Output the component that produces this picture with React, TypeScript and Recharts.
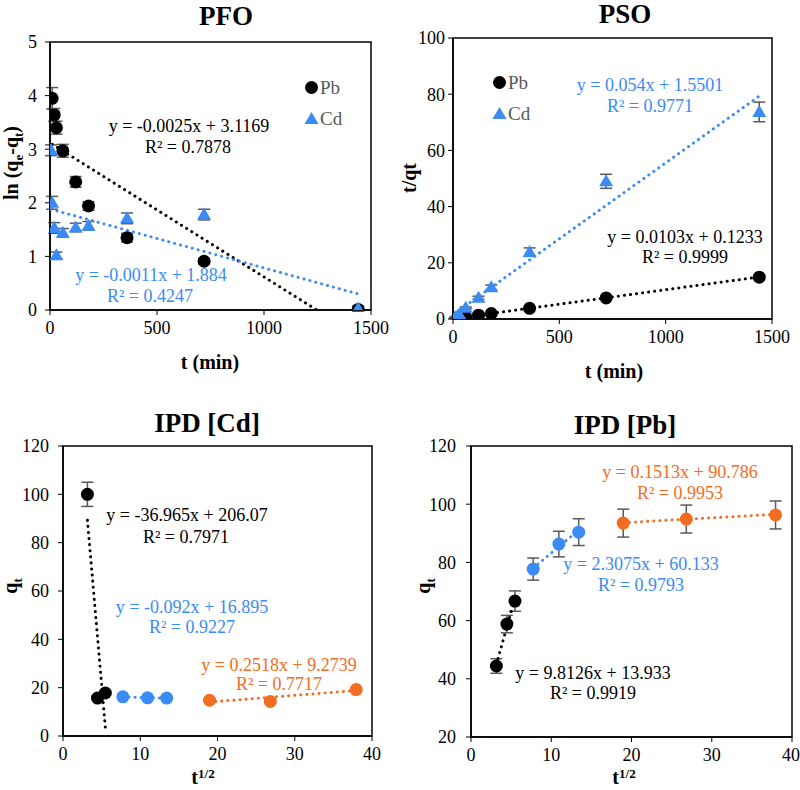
import React from "react";
import { ScatterChart, Scatter, XAxis, YAxis, ErrorBar, ReferenceArea, Legend } from "recharts";

const SERIF = "Liberation Serif, Tinos, DejaVu Serif, serif";
const BLUE = "#3b8bf4";
const ORANGE = "#f26c22";
const BLACK = "#000000";
const BAR = "#595959";

// PFO : ln(qe-qt) vs t
const pfoPbTime = [10, 20, 30, 60, 120, 180, 360, 720, 1440];
const pfoPb = [3.95, 3.64, 3.4, 2.97, 2.39, 1.94, 1.35, 0.91, 0.01];
const pfoPbErr = [0.2, 0.12, 0.12, 0.12, 0.1, 0.08, 0.08, 0.05, 0.03];
const pfoCdTime = [5, 10, 20, 30, 60, 120, 180, 360, 720, 1440];
const pfoCd = [2.98, 2.0, 1.53, 1.02, 1.44, 1.54, 1.57, 1.71, 1.78, 0.03];
const pfoCdErr = [0.1, 0.12, 0.1, 0.06, 0.08, 0.08, 0.08, 0.1, 0.1, 0.05];
const pfoPbFit = { slope: -0.0025, intercept: 3.1169, r2: 0.7878 };
const pfoCdFit = { slope: -0.0011, intercept: 1.884, r2: 0.4247 };

// PSO : t/qt vs t
const psoTime = [10, 20, 30, 60, 120, 180, 360, 720, 1440];
const psoPb = [0.22, 0.3, 0.45, 0.75, 1.35, 1.95, 3.8, 7.5, 14.9];
const psoPbErr = [0.05, 0.05, 0.05, 0.1, 0.1, 0.1, 0.2, 0.3, 0.5];
const psoCd = [0.6, 1.0, 1.6, 4.0, 7.6, 11.3, 23.8, 49.0, 73.7];
const psoCdErr = [0.1, 0.1, 0.2, 0.3, 0.5, 0.8, 1.5, 2.5, 3.5];
const psoPbFit = { slope: 0.0103, intercept: 0.1233, r2: 0.9999 };
const psoCdFit = { slope: 0.054, intercept: 1.5501, r2: 0.9771 };

// IPD : qt vs t^1/2, three stages
const rootT1 = [3.16, 4.47, 5.48];
const rootT2 = [7.75, 10.95, 13.42];
const rootT3 = [18.97, 26.83, 37.95];

const ipdCd1 = [100, 15.7, 17.8];
const ipdCd1Err = [5, 0.8, 0.8];
const ipdCd2 = [16.2, 15.8, 15.7];
const ipdCd2Err = [0.5, 0.5, 0.5];
const ipdCd3 = [14.8, 14.3, 19.2];
const ipdCd3Err = [0.5, 0.5, 0.5];
const ipdCdFits = [
  { slope: -36.965, intercept: 206.07, r2: 0.7971 },
  { slope: -0.092, intercept: 16.895, r2: 0.9227 },
  { slope: 0.2518, intercept: 9.2739, r2: 0.7717 },
];

const ipdPb1 = [44.4, 58.8, 66.7];
const ipdPb1Err = [2.5, 3, 3.5];
const ipdPb2 = [77.7, 86.3, 90.4];
const ipdPb2Err = [3.8, 4.4, 4.6];
const ipdPb3 = [93.5, 94.9, 96.3];
const ipdPb3Err = [4.8, 4.8, 4.8];
const ipdPbFits = [
  { slope: 9.8126, intercept: 13.933, r2: 0.9919 },
  { slope: 2.3075, intercept: 60.133, r2: 0.9793 },
  { slope: 0.1513, intercept: 90.786, r2: 0.9953 },
];

const legendOrder = ["Pb", "Cd"];

type Fit = { slope: number; intercept: number; r2: number };
type Series = {
  name?: string;
  x: number[];
  y: number[];
  err: number[];
  color: string;
  shape: "circle" | "triangle";
  fit?: Fit;
};

const rows = (x: number[], y: number[], err: number[]) =>
  x.map((v, i) => ({ x: v, y: y[i], err: err[i] }));

// Excel trendline from first to last x, cut where it leaves the y range
function trend(fit: Fit, xs: number[], yMin: number) {
  let x0 = Math.min(...xs);
  let x1 = Math.max(...xs);
  const f = (x: number) => fit.slope * x + fit.intercept;
  if (f(x1) < yMin) x1 = (yMin - fit.intercept) / fit.slope;
  if (f(x0) < yMin) x0 = (yMin - fit.intercept) / fit.slope;
  return [
    { x: x0, y: f(x0) },
    { x: x1, y: f(x1) },
  ];
}

const eqText = (f: Fit) => `y = ${f.slope}x + ${f.intercept}`;
const r2Text = (f: Fit) => `R² = ${f.r2}`;

const makeShape = (kind: "circle" | "triangle", color: string) => (props: any) => {
  const { cx, cy } = props;
  if (cx == null || cy == null) return <g />;
  if (kind === "triangle") {
    return <polygon points={`${cx},${cy - 7} ${cx - 7},${cy + 5} ${cx + 7},${cy + 5}`} fill={color} />;
  }
  return <circle cx={cx} cy={cy} r={6.5} fill={color} />;
};

const legendContent = (props: any) => {
  const items = (props.payload || [])
    .filter((p: any) => p.type !== "none")
    .sort((a: any, b: any) => legendOrder.indexOf(a.value) - legendOrder.indexOf(b.value));
  return (
    <div style={{ fontFamily: SERIF, fontSize: 19, color: "#595959", lineHeight: "31px" }}>
      {items.map((p: any) => (
        <div key={p.value} style={{ display: "flex", alignItems: "center" }}>
          <svg width={15} height={15}>
            {p.type === "triangle" ? (
              <polygon points="7.5,1 0.5,13 14.5,13" fill={p.color} />
            ) : (
              <circle cx={7.5} cy={7.5} r={6.5} fill={p.color} />
            )}
          </svg>
          <span style={{ marginLeft: 1 }}>{p.value}</span>
        </div>
      ))}
    </div>
  );
};

type PanelProps = {
  box: { left: number; top: number; width: number; height: number };
  plot: { L: number; T: number; R: number; B: number };
  xDomain: [number, number];
  xTicks: number[];
  yDomain: [number, number];
  yTicks: number[];
  yTickMargin: number;
  series: Series[];
  legendAt?: { x: number; y: number };
};

function Panel({ box, plot, xDomain, xTicks, yDomain, yTicks, yTickMargin, series, legendAt }: PanelProps) {
  const xAxisHeight = 30;
  const margin = {
    top: plot.T - box.top,
    left: 0,
    right: box.left + box.width - plot.R,
    bottom: box.top + box.height - plot.B - xAxisHeight,
  };
  const tick = { fill: "#000", fontSize: 18, fontFamily: SERIF };
  return (
    <div style={{ position: "absolute", left: box.left, top: box.top }}>
      <ScatterChart width={box.width} height={box.height} margin={margin}>
        <XAxis
          type="number"
          dataKey="x"
          domain={xDomain}
          ticks={xTicks}
          allowDataOverflow
          height={xAxisHeight}
          tickSize={5}
          tickMargin={6}
          tick={tick}
          axisLine={{ stroke: "#000", strokeWidth: 1.5 }}
          tickLine={{ stroke: "#000" }}
        />
        <YAxis
          type="number"
          dataKey="y"
          domain={yDomain}
          ticks={yTicks}
          allowDataOverflow
          width={plot.L - box.left}
          tickSize={5}
          tickMargin={yTickMargin}
          tick={tick}
          axisLine={{ stroke: "#000", strokeWidth: 1.5 }}
          tickLine={{ stroke: "#000" }}
        />
        <ReferenceArea
          x1={xDomain[0]}
          x2={xDomain[1]}
          y1={yDomain[0]}
          y2={yDomain[1]}
          fill="none"
          stroke="#000"
          strokeWidth={1.5}
          ifOverflow="visible"
        />
        {series
          .filter((s) => s.fit)
          .map((s, i) => (
            <Scatter
              key={`fit-${i}`}
              data={trend(s.fit as Fit, s.x, yDomain[0])}
              line={{ stroke: s.color, strokeWidth: 3, strokeDasharray: "0.1 6", strokeLinecap: "round" }}
              lineType="joint"
              shape={() => <g />}
              legendType="none"
              isAnimationActive={false}
            />
          ))}
        {series.map((s, i) => (
          <Scatter
            key={`pts-${i}`}
            name={s.name}
            data={rows(s.x, s.y, s.err)}
            fill={s.color}
            shape={makeShape(s.shape, s.color)}
            legendType={s.name ? s.shape : "none"}
            isAnimationActive={false}
          >
            <ErrorBar dataKey="err" direction="y" width={6} strokeWidth={1.5} stroke={BAR} />
          </Scatter>
        ))}
        {legendAt && (
          <Legend
            layout="vertical"
            align="center"
            verticalAlign="middle"
            content={legendContent}
            wrapperStyle={{ left: legendAt.x - box.left, top: legendAt.y - box.top, width: "auto" }}
          />
        )}
      </ScatterChart>
    </div>
  );
}

function Note({ x, y, color, size = 18, bold = false, children, rotate = false }: any) {
  return (
    <div
      style={{
        position: "absolute",
        left: x,
        top: y,
        transform: `translate(-50%, -50%)${rotate ? " rotate(-90deg)" : ""}`,
        fontFamily: SERIF,
        fontSize: size,
        fontWeight: bold ? "bold" : "normal",
        color,
        whiteSpace: "nowrap",
        lineHeight: 1,
      }}
    >
      {children}
    </div>
  );
}

const supStyle = { fontSize: 13, verticalAlign: "top", lineHeight: 1 };

export default function App() {
  const pfoSeries: Series[] = [
    { name: "Pb", x: pfoPbTime, y: pfoPb, err: pfoPbErr, color: BLACK, shape: "circle", fit: pfoPbFit },
    { name: "Cd", x: pfoCdTime, y: pfoCd, err: pfoCdErr, color: BLUE, shape: "triangle", fit: pfoCdFit },
  ];
  const psoSeries: Series[] = [
    { name: "Pb", x: psoTime, y: psoPb, err: psoPbErr, color: BLACK, shape: "circle", fit: psoPbFit },
    { name: "Cd", x: psoTime, y: psoCd, err: psoCdErr, color: BLUE, shape: "triangle", fit: psoCdFit },
  ];
  const ipdCdSeries: Series[] = [
    { x: rootT1, y: ipdCd1, err: ipdCd1Err, color: BLACK, shape: "circle", fit: ipdCdFits[0] },
    { x: rootT2, y: ipdCd2, err: ipdCd2Err, color: BLUE, shape: "circle", fit: ipdCdFits[1] },
    { x: rootT3, y: ipdCd3, err: ipdCd3Err, color: ORANGE, shape: "circle", fit: ipdCdFits[2] },
  ];
  const ipdPbSeries: Series[] = [
    { x: rootT1, y: ipdPb1, err: ipdPb1Err, color: BLACK, shape: "circle", fit: ipdPbFits[0] },
    { x: rootT2, y: ipdPb2, err: ipdPb2Err, color: BLUE, shape: "circle", fit: ipdPbFits[1] },
    { x: rootT3, y: ipdPb3, err: ipdPb3Err, color: ORANGE, shape: "circle", fit: ipdPbFits[2] },
  ];

  return (
    <div style={{ position: "absolute", left: 0, top: 0, width: 800, height: 790, background: "#fff", overflow: "hidden" }}>
      <Panel
        box={{ left: 0, top: 0, width: 400, height: 390 }}
        plot={{ L: 50, T: 42, R: 371, B: 310 }}
        xDomain={[0, 1500]}
        xTicks={[0, 500, 1000, 1500]}
        yDomain={[0, 5]}
        yTicks={[0, 1, 2, 3, 4, 5]}
        yTickMargin={8}
        series={pfoSeries}
        legendAt={{ x: 304, y: 72 }}
      />
      <Panel
        box={{ left: 400, top: 0, width: 400, height: 390 }}
        plot={{ L: 453, T: 38, R: 772, B: 319 }}
        xDomain={[0, 1500]}
        xTicks={[0, 500, 1000, 1500]}
        yDomain={[0, 100]}
        yTicks={[0, 20, 40, 60, 80, 100]}
        yTickMargin={3}
        series={psoSeries}
        legendAt={{ x: 492, y: 67 }}
      />
      <Panel
        box={{ left: 0, top: 395, width: 400, height: 395 }}
        plot={{ L: 63, T: 446, R: 372, B: 736 }}
        xDomain={[0, 40]}
        xTicks={[0, 10, 20, 30, 40]}
        yDomain={[0, 120]}
        yTicks={[0, 20, 40, 60, 80, 100, 120]}
        yTickMargin={9}
        series={ipdCdSeries}
      />
      <Panel
        box={{ left: 400, top: 395, width: 400, height: 395 }}
        plot={{ L: 471, T: 446, R: 792, B: 737 }}
        xDomain={[0, 40]}
        xTicks={[0, 10, 20, 30, 40]}
        yDomain={[20, 120]}
        yTicks={[20, 40, 60, 80, 100, 120]}
        yTickMargin={10}
        series={ipdPbSeries}
      />

      {/* titles */}
      <Note x={226} y={16} size={27} bold>PFO</Note>
      <Note x={625} y={14} size={27} bold>PSO</Note>
      <Note x={207} y={423} size={27} bold>IPD [Cd]</Note>
      <Note x={625} y={425} size={27} bold>IPD [Pb]</Note>

      {/* axis titles */}
      <Note x={13} y={163} size={20} bold rotate>
        ln (q<sub style={{ fontSize: 13 }}>e</sub>-q<sub style={{ fontSize: 13 }}>t</sub>)
      </Note>
      <Note x={210} y={362} size={20} bold>t (min)</Note>
      <Note x={409} y={178} size={20} bold rotate>t/qt</Note>
      <Note x={614} y={371} size={20} bold>t (min)</Note>
      <Note x={12} y={586} size={20} bold rotate>
        q<sub style={{ fontSize: 13 }}>t</sub>
      </Note>
      <Note x={203} y={777} size={20} bold>
        t<span style={supStyle}>1/2</span>
      </Note>
      <Note x={425} y={586} size={20} bold rotate>
        q<sub style={{ fontSize: 13 }}>t</sub>
      </Note>
      <Note x={624} y={777} size={20} bold>
        t<span style={supStyle}>1/2</span>
      </Note>

      {/* trendline equations */}
      <Note x={189} y={126} color={BLACK}>{eqText(pfoPbFit)}</Note>
      <Note x={188} y={147} color={BLACK}>{r2Text(pfoPbFit)}</Note>
      <Note x={151} y={275} color={BLUE}>{eqText(pfoCdFit)}</Note>
      <Note x={150} y={296} color={BLUE}>{r2Text(pfoCdFit)}</Note>

      <Note x={650} y={85} color={BLUE}>{eqText(psoCdFit)}</Note>
      <Note x={650} y={106} color={BLUE}>{r2Text(psoCdFit)}</Note>
      <Note x={685} y={237} color={BLACK}>{eqText(psoPbFit)}</Note>
      <Note x={685} y={257} color={BLACK}>{r2Text(psoPbFit)}</Note>

      <Note x={187} y={515} color={BLACK}>{eqText(ipdCdFits[0])}</Note>
      <Note x={186} y={537} color={BLACK}>{r2Text(ipdCdFits[0])}</Note>
      <Note x={192} y={607} color={BLUE}>{eqText(ipdCdFits[1])}</Note>
      <Note x={192} y={627} color={BLUE}>{r2Text(ipdCdFits[1])}</Note>
      <Note x={279} y={665} color={ORANGE}>{eqText(ipdCdFits[2])}</Note>
      <Note x={279} y={684} color={ORANGE}>{r2Text(ipdCdFits[2])}</Note>

      <Note x={680} y={472} color={ORANGE}>{eqText(ipdPbFits[2])}</Note>
      <Note x={680} y={493} color={ORANGE}>{r2Text(ipdPbFits[2])}</Note>
      <Note x={641} y={564} color={BLUE}>{eqText(ipdPbFits[1])}</Note>
      <Note x={641} y={585} color={BLUE}>{r2Text(ipdPbFits[1])}</Note>
      <Note x={593} y={673} color={BLACK}>{eqText(ipdPbFits[0])}</Note>
      <Note x={593} y={693} color={BLACK}>{r2Text(ipdPbFits[0])}</Note>
    </div>
  );
}
